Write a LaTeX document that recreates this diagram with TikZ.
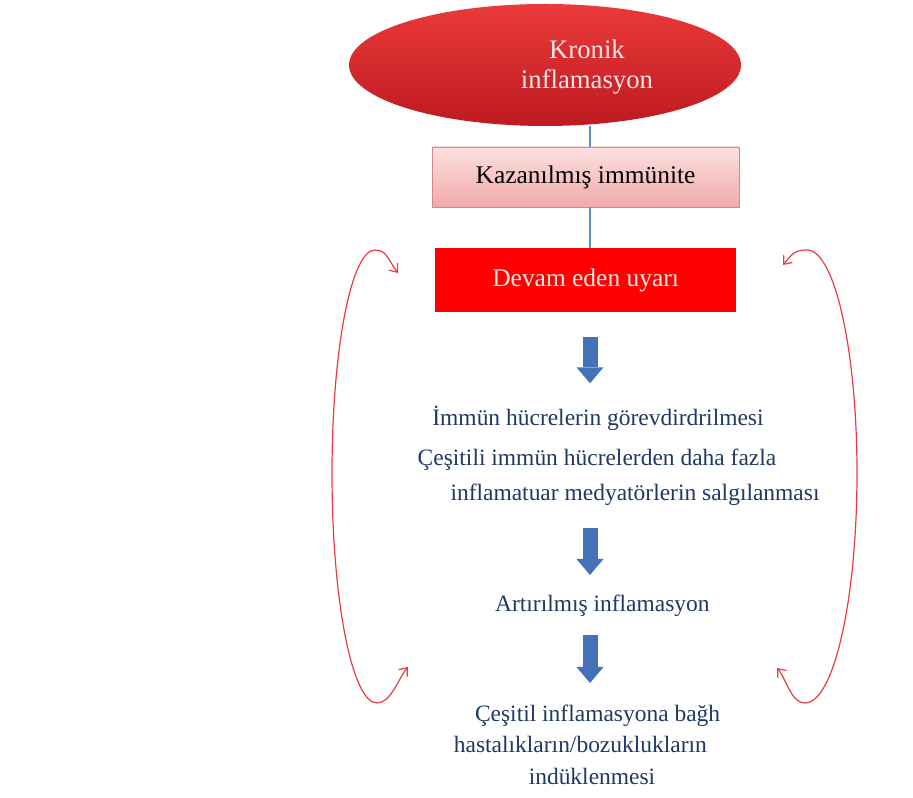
\documentclass[tikz,border=0pt]{standalone}
\usepackage{fontspec}
\setmainfont{Liberation Serif}
\usepackage{tikz}
\usetikzlibrary{shapes}
\usetikzlibrary{arrows.meta}
\usetikzlibrary{calc}

\definecolor{navy}{RGB}{31,56,100}
\definecolor{cyclered}{RGB}{232,58,68}
\definecolor{arrowblue}{RGB}{68,114,184}
\definecolor{linkblue}{RGB}{91,141,201}
\definecolor{pinktop}{RGB}{252,224,224}
\definecolor{pinkbot}{RGB}{242,170,170}
\definecolor{pinkedge}{RGB}{214,134,136}
\definecolor{elltop}{RGB}{234,58,58}
\definecolor{ellbot}{RGB}{190,26,32}
\definecolor{paletext}{RGB}{253,230,230}

\begin{document}
\begin{tikzpicture}[
    navytext/.style={text=navy,font=\fontsize{16.7}{20}\selectfont,anchor=base,inner sep=0pt},
    boxtext/.style={font=\fontsize{18.1}{21}\selectfont},
    bigarrow/.style={arrowblue,line width=0.375cm,-{Triangle[width=0.675cm,length=0.4cm,line width=0pt]}},
    link/.style={linkblue,line width=0.85pt},
    cycle/.style={cyclered,line width=0.85pt,{Straight Barb[length=5pt,width=8pt]}-{Straight Barb[length=5pt,width=8pt]}},
  ]
    \useasboundingbox (0,0) rectangle (22.825,19.95);
    \coordinate (spine) at (14.75,0);

    \node[ellipse,minimum width=9.8cm,minimum height=3.05cm,top color=elltop,bottom color=ellbot] (kronik) at (13.625,18.325) {};
    \node[align=center,text=paletext,font=\fontsize{19}{21.3}\selectfont] (kroniktxt) at (14.675,18.28) {Kronik\\inflamasyon};
    \node[boxtext,draw=pinkedge,top color=pinktop,bottom color=pinkbot,minimum width=7.675cm,minimum height=1.5cm] (kazan) at (14.64,15.525) {Kazanılmış immünite};
    \node[boxtext,fill=red,text=paletext,minimum width=7.525cm,minimum height=1.6cm] (devam) at (14.64,12.95) {Devam eden uyarı};

    \draw[link] (kronik.south -| spine) -- (kazan.north -| spine);
    \draw[link] (kazan.south -| spine) -- (devam.north -| spine);

    \node[navytext] (immun) at (14.95,9.3) {İmmün hücrelerin görevdirdrilmesi};
    \node[navytext] (cesit1) at (14.925,8.3) {Çeşitili immün hücrelerden daha fazla};
    \node[navytext] (cesit2) at (15.875,7.425) {inflamatuar medyatörlerin salgılanması};
    \node[navytext] (artir) at (15.06,4.65) {Artırılmış inflamasyon};
    \node[navytext] (hast1) at (14.94,1.9) {Çeşitil inflamasyona bağh};
    \node[navytext] (hast2) at (14.51,1.125) {hastalıkların/bozuklukların};
    \node[navytext] (hast3) at (14.8,0.325) {indüklenmesi};

    \draw[bigarrow] ($(devam.south -| spine)+(0,-0.625)$) -- ++(0,-1.15);
    \draw[bigarrow] ($(cesit2.base -| spine)+(0,-0.675)$) -- ++(0,-1.175);
    \draw[bigarrow] ($(artir.base -| spine)+(0,-0.575)$) -- ++(0,-1.2);

    % feedback loops
    \coordinate (ltop) at (9.95,13.125);
    \coordinate (lbot) at (10.2,3.275);
    \coordinate (rtop) at (19.575,13.325);
    \coordinate (rbot) at (19.425,3.25);
    \draw[cycle] (ltop) .. controls (9.7,13.45) and (9.675,13.7) .. (9.375,13.7)
        .. controls (8.78,13.7) and (8.3,11.2) .. (8.3,8.125)
        .. controls (8.3,4.95) and (8.8,2.375) .. (9.425,2.375)
        .. controls (9.775,2.375) and (9.95,2.975) .. (lbot);
    \draw[cycle] (rtop) .. controls (19.825,13.625) and (19.875,13.7) .. (20.175,13.7)
        .. controls (20.865,13.7) and (21.425,11.2) .. (21.425,8.125)
        .. controls (21.425,4.95) and (20.845,2.375) .. (20.125,2.375)
        .. controls (19.775,2.375) and (19.675,2.95) .. (rbot);
\end{tikzpicture}
\end{document}
